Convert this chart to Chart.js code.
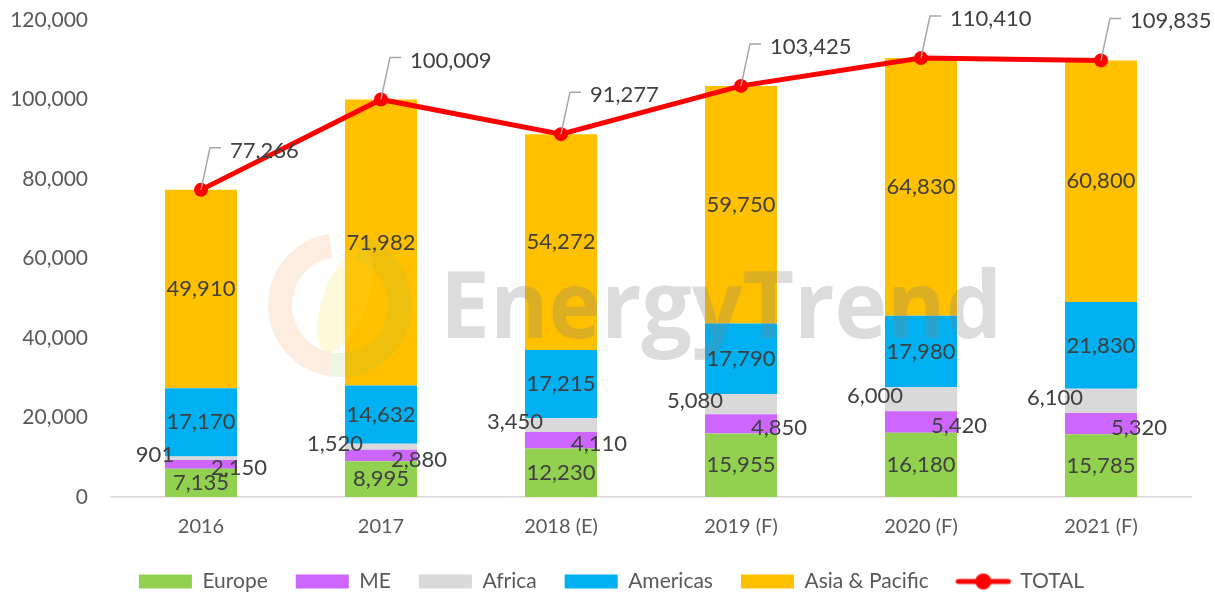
<!DOCTYPE html>
<html>
<head>
<meta charset="utf-8">
<script src="https://cdn.jsdelivr.net/npm/chart.js@4.4.1/dist/chart.umd.min.js"></script>
<style>
  html, body { margin: 0; padding: 0; background: #fff; }
  #wrap { width: 1215px; height: 598px; }
</style>
</head>
<body>
<div id="wrap"><canvas id="chart" width="1215" height="598"></canvas></div>
<script>
const years = ["2016", "2017", "2018 (E)", "2019 (F)", "2020 (F)", "2021 (F)"];
const europe = [7135, 8995, 12230, 15955, 16180, 15785];
const me = [2150, 2880, 4110, 4850, 5420, 5320];
const africa = [901, 1520, 3450, 5080, 6000, 6100];
const americas = [17170, 14632, 17215, 17790, 17980, 21830];
const asiaPacific = [49910, 71982, 54272, 59750, 64830, 60800];
const total = [77266, 100009, 91277, 103425, 110410, 109835];

const FONT = "Lato";
const fmt = (v) => v.toLocaleString("en-US");

// legend marker for the TOTAL line (line with a dot)
const totalMarker = document.createElement("canvas");
totalMarker.width = 56;
totalMarker.height = 18;
(function () {
  const c = totalMarker.getContext("2d");
  c.strokeStyle = "#FF0000";
  c.lineWidth = 5;
  c.lineCap = "round";
  c.beginPath();
  c.moveTo(3, 9);
  c.lineTo(53, 9);
  c.stroke();
  c.fillStyle = "#FF0000";
  c.beginPath();
  c.arc(28, 9, 8, 0, Math.PI * 2);
  c.fill();
})();

// faint EnergyTrend watermark over the bars
const watermark = {
  id: "watermark",
  afterDatasetsDraw(chart) {
    const ctx = chart.ctx;
    ctx.save();
    ctx.lineWidth = 24;
    ctx.strokeStyle = "rgba(240,140,70,0.16)";
    ctx.beginPath();
    ctx.arc(340, 305, 60, Math.PI * 0.55, Math.PI * 1.45);
    ctx.stroke();
    ctx.strokeStyle = "rgba(150,195,70,0.16)";
    ctx.beginPath();
    ctx.arc(340, 305, 60, Math.PI * 1.6, Math.PI * 2.55);
    ctx.stroke();
    ctx.fillStyle = "rgba(255,220,60,0.18)";
    ctx.beginPath();
    ctx.ellipse(345, 300, 22, 55, 0.35, 0, Math.PI * 2);
    ctx.fill();
    ctx.fillStyle = "rgba(128,128,128,0.28)";
    ctx.font = "bold 94px 'Open Sans'";
    ctx.textAlign = "left";
    ctx.textBaseline = "alphabetic";
    ctx.fillText("EnergyTrend", 440, 338, 562);
    ctx.restore();
  },
};

// nudge the legend right so it sits where the original one does
const legendShift = {
  id: "legendShift",
  afterLayout(chart) {
    if (chart.legend) {
      chart.legend.left += 16;
      chart.legend.right += 16;
    }
  },
};

// value labels, placed like the original workbook
const valueLabels = {
  id: "valueLabels",
  afterDatasetsDraw(chart) {
    const ctx = chart.ctx;
    ctx.save();
    ctx.font = "22px " + FONT;
    ctx.fillStyle = "#404040";
    ctx.textBaseline = "middle";
    chart.data.datasets.forEach((ds, di) => {
      const meta = chart.getDatasetMeta(di);
      meta.data.forEach((el, i) => {
        const v = ds.data[i];
        if (ds.type === "line") {
          const tx = el.x + 29;
          const ty = el.y - 39;
          ctx.strokeStyle = "#A6A6A6";
          ctx.lineWidth = 1.5;
          ctx.beginPath();
          ctx.moveTo(el.x, el.y);
          ctx.lineTo(el.x + 9, ty - 3);
          ctx.lineTo(el.x + 20, ty - 3);
          ctx.stroke();
          ctx.textAlign = "left";
          ctx.fillText(fmt(v), tx, ty);
          return;
        }
        const cy = (el.y + el.base) / 2;
        ctx.textAlign = "center";
        if (ds.label === "ME") {
          ctx.fillText(fmt(v), el.x + 38, cy + 4);
        } else if (ds.label === "Africa") {
          ctx.fillText(fmt(v), el.x - 46, cy - 3);
        } else {
          ctx.fillText(fmt(v), el.x, cy);
        }
      });
    });
    ctx.restore();
  },
};

const barDs = (label, data, color) => ({
  type: "bar",
  label: label,
  data: data,
  backgroundColor: color,
  borderWidth: 0,
  stack: "regions",
  order: 1,
  barPercentage: 0.4,
  categoryPercentage: 1.0,
});

new Chart(document.getElementById("chart"), {
  data: {
    labels: years,
    datasets: [
      barDs("Europe", europe, "#92D050"),
      barDs("ME", me, "#CC66FF"),
      barDs("Africa", africa, "#D9D9D9"),
      barDs("Americas", americas, "#00B0F0"),
      barDs("Asia & Pacific", asiaPacific, "#FFC000"),
      {
        type: "line",
        label: "TOTAL",
        data: total,
        borderColor: "#FF0000",
        backgroundColor: "#FF0000",
        borderWidth: 5,
        pointRadius: 7,
        pointBackgroundColor: "#FF0000",
        pointBorderColor: "#FF0000",
        pointBorderWidth: 0,
        tension: 0,
        stack: "total",
        order: 0,
      },
    ],
  },
  options: {
    responsive: false,
    animation: false,
    layout: {
      padding: { top: 20, right: 24, bottom: -4, left: 0 },
    },
    plugins: {
      tooltip: { enabled: false },
      legend: {
        display: true,
        position: "bottom",
        labels: {
          usePointStyle: true,
          pointStyleWidth: 53,
          boxHeight: 14,
          padding: 28,
          color: "#595959",
          font: { family: FONT, size: 21 },
          sort: (a, b) => a.datasetIndex - b.datasetIndex,
          generateLabels(chart) {
            const items = Chart.defaults.plugins.legend.labels.generateLabels(chart);
            items.forEach((it) => {
              const ds = chart.data.datasets[it.datasetIndex];
              if (ds.type === "line") {
                it.pointStyle = totalMarker;
              } else {
                it.pointStyle = "rect";
                it.lineWidth = 0;
              }
            });
            return items;
          },
        },
      },
    },
    scales: {
      x: {
        stacked: true,
        grid: { display: false, drawTicks: false },
        border: { display: true, color: "#D9D9D9", width: 1.5 },
        ticks: {
          color: "#595959",
          padding: 18,
          font: { family: FONT, size: 20 },
        },
        afterFit(scale) {
          scale.height = 46;
        },
      },
      y: {
        stacked: true,
        min: 0,
        max: 120000,
        grid: { display: false, drawTicks: true, tickLength: 23 },
        border: { display: false },
        ticks: {
          stepSize: 20000,
          color: "#595959",
          padding: 0,
          font: { family: FONT, size: 21 },
          callback: (v) => fmt(v),
        },
        afterFit(scale) {
          scale.width = 111;
        },
      },
    },
  },
  plugins: [watermark, legendShift, valueLabels],
});
</script>
</body>
</html>
